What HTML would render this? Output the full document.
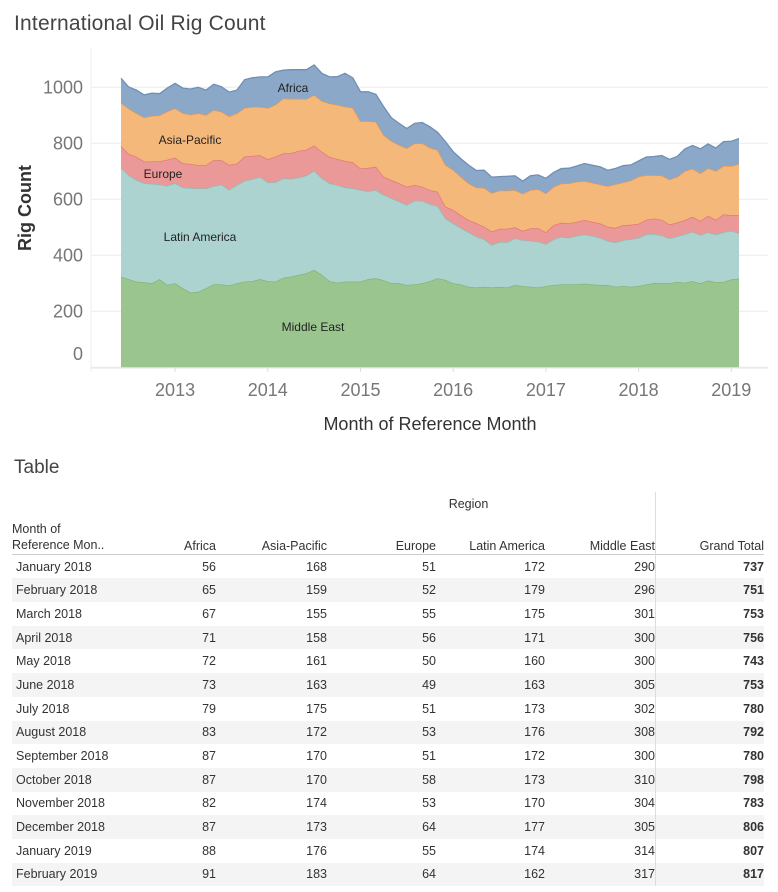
<!DOCTYPE html>
<html><head><meta charset="utf-8">
<style>
body{margin:0;background:#fff;font-family:"Liberation Sans",sans-serif;}
#wrap{position:relative;width:778px;height:892px;overflow:hidden;}
.title{position:absolute;left:14px;top:12px;font-size:21px;color:#444;letter-spacing:0.2px;}
.ttitle{position:absolute;left:14px;top:457px;font-size:19px;color:#444;}
table{position:absolute;left:12px;top:492px;border-collapse:collapse;font-size:12.5px;color:#333;}
td,th{padding:0;font-weight:normal;height:23.7px;}
</style></head><body>
<div id="wrap">
<div class="title">International Oil Rig Count</div>
<svg id="chart" width="778" height="450" style="position:absolute;left:0;top:0"></svg>
<div class="ttitle">Table</div>
<div id="tbl"></div>
</div>
<script>
const months=81; // Jun 2012 .. Feb 2019
const middleEast=[324,315,306,304,300,315,294,300,282,267,270,282,296,296,292,300,306,308,315,308,306,320,324,330,336,348,330,308,302,306,306,306,315,318,311,300,300,294,296,300,308,318,312,300,296,288,285,288,285,287,285,294,290,288,285,290,294,296,296,296,299,296,294,294,288,290,288,290,296,301,300,300,305,302,308,300,310,304,305,314,317];
const latinAmerica=[389,371,363,354,355,338,354,357,360,373,369,357,351,357,342,351,360,364,365,352,355,355,349,348,349,354,345,349,349,336,333,327,314,315,305,304,292,286,299,295,274,258,220,214,202,194,182,169,152,160,162,167,164,164,164,150,163,170,167,174,176,174,169,157,158,164,170,172,179,175,171,160,163,173,176,172,173,170,177,174,162];
const europe=[77,77,83,77,80,83,93,92,87,86,83,83,93,87,89,77,87,83,77,83,92,89,92,95,92,90,95,95,93,95,93,77,83,83,65,65,65,65,56,50,51,51,42,48,45,44,48,45,48,48,48,39,33,44,48,42,51,50,51,50,51,50,51,51,52,54,51,51,52,55,56,50,49,51,53,51,58,53,64,55,64];
const asiaPacific=[155,161,155,157,163,164,173,176,179,176,185,179,179,173,173,179,173,175,173,183,185,196,194,186,181,181,181,190,193,194,195,169,167,161,149,139,137,137,149,155,151,149,149,143,137,131,127,139,137,136,136,133,133,137,139,139,137,140,143,143,139,139,139,145,156,152,158,168,159,155,158,161,163,175,172,170,170,174,173,176,183];
const africa=[87,77,83,81,81,77,83,89,89,92,93,89,92,89,87,83,101,104,107,111,117,101,104,104,105,107,99,95,101,119,107,105,105,98,101,83,77,71,71,74,75,63,83,65,65,65,61,63,57,50,51,51,45,51,51,54,51,54,54,56,63,63,63,57,56,60,56,56,65,67,71,72,73,79,83,87,87,82,87,88,91];
const yTicks=[0,200,400,600,800,1000];
const xYears=[2013,2014,2015,2016,2017,2018,2019];
const seriesNames=["Middle East","Latin America","Europe","Asia-Pacific","Africa"];

const svg=document.getElementById('chart');
const NS='http://www.w3.org/2000/svg';
const x0=121,x1=739,y0=367.3,pxPer=0.28;
function xScale(m){return x0+(x1-x0)*m/(months-1);}
function yScale(v){return y0-v*pxPer;}
function xYear(yr){return xScale((yr-2012)*12-5);}
function mk(tag,attrs,parent){const e=document.createElementNS(NS,tag);for(const k in attrs)e.setAttribute(k,attrs[k]);(parent||svg).appendChild(e);return e;}

yTicks.forEach(v=>{
  const g=mk('line',{x1:91,x2:768,y1:yScale(v),y2:yScale(v),stroke:'#ececec','stroke-width':1});
  
  
  const t=mk('text',{x:83,y:Math.min(yScale(v),354)+6,'text-anchor':'end','font-size':18,fill:'#777','font-family':'Liberation Sans, sans-serif'});
  t.textContent=v;
  
  
});
const ax=mk('line',{x1:91,x2:91,y1:48,y2:372,stroke:'#eee'});


const bx=mk('line',{x1:91,x2:768,y1:368,y2:368,stroke:'#e6e6e6'});



const series=[middleEast,latinAmerica,europe,asiaPacific,africa];
const fills=['#9ac58f','#acd3d0','#ea9898','#f5b87b','#8ba8c8'];
const strokes=['#7db46f','#86c1bc','#e07474','#f0964a','#6f8fb6'];
const names=['area-middle-east','area-latin-america','area-europe','area-asia-pacific','area-africa'];
let base=new Array(months).fill(0);
const paths=[];
series.forEach((s,i)=>{
  const top=base.map((b,m)=>b+s[m]);
  let d='';
  for(let m=0;m<months;m++)d+=(m?'L':'M')+xScale(m).toFixed(1)+','+yScale(top[m]).toFixed(1);
  for(let m=months-1;m>=0;m--)d+='L'+xScale(m).toFixed(1)+','+yScale(base[m]).toFixed(1);
  d+='Z';
  let ld='';
  for(let m=0;m<months;m++)ld+=(m?'L':'M')+xScale(m).toFixed(1)+','+yScale(top[m]).toFixed(1);
  paths.push([d,ld,i]);
  base=top;
});
paths.forEach(([d,ld,i])=>{
  const p=mk('path',{d:d,fill:fills[i],stroke:'none'});
  
  
  const l=mk('path',{d:ld,fill:'none',stroke:strokes[i],'stroke-width':1.3});
  
  
});
[['Africa',293,92],['Asia-Pacific',190,144],['Europe',163,178],['Latin America',200,241],['Middle East',313,331]].forEach(a=>{
  const t=mk('text',{x:a[1],y:a[2],'text-anchor':'middle','font-size':12,fill:'#222','font-family':'Liberation Sans, sans-serif'});
  t.textContent=a[0];
  
  
});
xYears.forEach(yr=>{
  const x=xYear(yr);
  const t=mk('text',{x:x,y:396,'text-anchor':'middle','font-size':18,fill:'#777','font-family':'Liberation Sans, sans-serif'});
  t.textContent=yr;
  
  
  const tk=mk('line',{x1:x,x2:x,y1:368,y2:372,stroke:'#ddd'});
  
  
});
const xt=mk('text',{x:430,y:430,'text-anchor':'middle','font-size':18,fill:'#333','font-family':'Liberation Sans, sans-serif'});
xt.textContent='Month of Reference Month';


const yt=mk('text',{x:0,y:0,'text-anchor':'middle','font-size':18,'font-weight':'bold',fill:'#333','font-family':'Liberation Sans, sans-serif',transform:'translate(31,208) rotate(-90)'});
yt.textContent='Rig Count';



const tblMonths=['January 2018','February 2018','March 2018','April 2018','May 2018','June 2018','July 2018','August 2018','September 2018','October 2018','November 2018','December 2018','January 2019','February 2019'];
let h='<table><tr><td></td><td colspan="5" style="text-align:center;height:22px;padding-left:120px">Region</td><td style="border-left:1px solid #ddd"></td></tr>';
h+='<tr style="border-bottom:1px solid #ccc"><td style="width:150px;height:37px;vertical-align:bottom;line-height:16px;padding-bottom:1px">Month of<br>Reference Mon..</td>';
const cw=[54,111,109,109,110];
['Africa','Asia-Pacific','Europe','Latin America','Middle East'].forEach((n,i)=>{h+='<td style="width:'+cw[i]+'px;text-align:right;vertical-align:bottom;padding-bottom:1px">'+n+'</td>';});
h+='<td style="width:108px;text-align:right;vertical-align:bottom;padding-bottom:1px;border-left:1px solid #ddd">Grand Total</td></tr>';
const startIdx=67;
tblMonths.forEach((mn,r)=>{
  const k=startIdx+r;
  const vals=[africa[k],asiaPacific[k],europe[k],latinAmerica[k],middleEast[k]];
  const tot=vals.reduce((a,b)=>a+b,0);
  h+='<tr style="background:'+(r%2?'#f4f4f4':'#fff')+'"><td style="padding-left:4px">'+mn+'</td>';
  vals.forEach(v=>{h+='<td style="text-align:right">'+v+'</td>';});
  h+='<td style="text-align:right;font-weight:bold;border-left:1px solid #ddd">'+tot+'</td></tr>';
});
h+='</table>';
document.getElementById('tbl').innerHTML=h;
</script>
</body></html>
